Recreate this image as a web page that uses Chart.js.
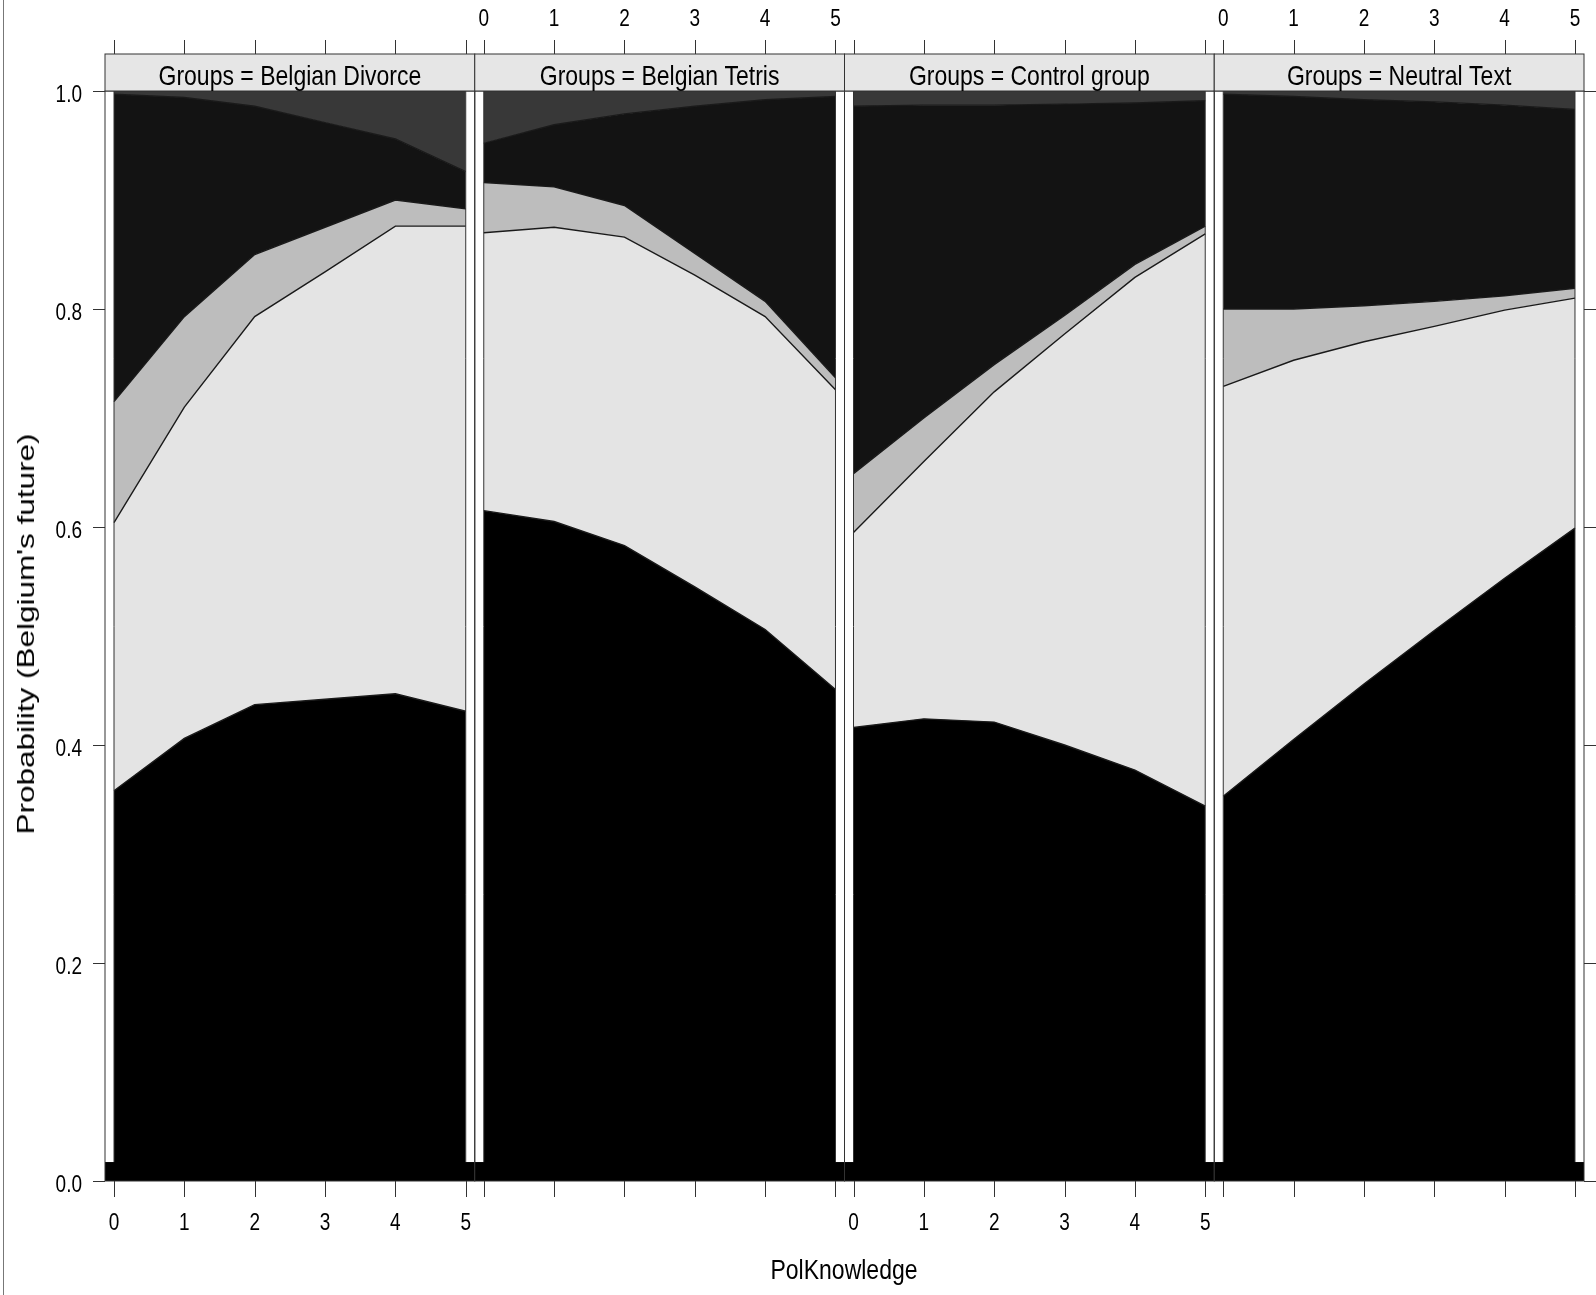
<!DOCTYPE html>
<html>
<head>
<meta charset="utf-8">
<script src="https://cdn.jsdelivr.net/npm/chart.js@4.4.1/dist/chart.umd.min.js"></script>
<style>
  html, body { margin: 0; padding: 0; background: #fff; }
  #wrap { position: relative; width: 1596px; height: 1295px; overflow: hidden; background: #fff; }
  #wrap canvas { position: absolute; left: 0; top: 0; }
  .frame { position: absolute; left: 3px; top: 0; width: 0; height: 1295px; border-left: 1px solid #777; }
  .title { position: absolute; font-family: "Liberation Sans", Arial, Helvetica, sans-serif; color: #000; white-space: nowrap; }
  #xtitle { left: 844px; top: 1270px; font-size: 23px; line-height: 23px; transform: translate(-50%, -50%) scaleY(1.2); }
  #ytitle { left: 26px; top: 634px; font-size: 24px; line-height: 24px; transform: translate(-50%, -50%) rotate(-90deg) scaleX(1.31); }
</style>
</head>
<body>
<div id="wrap">
  <div class="frame"></div>
  <canvas id="p0" width="1596" height="1295"></canvas>
  <canvas id="p1" width="1596" height="1295"></canvas>
  <canvas id="p2" width="1596" height="1295"></canvas>
  <canvas id="p3" width="1596" height="1295"></canvas>
  <div class="title" id="xtitle">PolKnowledge</div>
  <div class="title" id="ytitle">Probability (Belgium's future)</div>
</div>
<script>
// --- data (cumulative probabilities) ---
const knowledge = [0, 1, 2, 3, 4, 5];
const groups = ['Belgian Divorce', 'Belgian Tetris', 'Control group', 'Neutral Text'];
const yTicks = [0, 0.2, 0.4, 0.6, 0.8, 1.0];

const divorceCum1 = [0.358, 0.406, 0.437, 0.442, 0.447, 0.431];
const divorceCum2 = [0.604, 0.710, 0.793, 0.834, 0.876, 0.876];
const divorceCum3 = [0.715, 0.793, 0.850, 0.875, 0.900, 0.892];
const divorceCum4 = [0.997, 0.994, 0.986, 0.971, 0.956, 0.926];

const tetrisCum1 = [0.615, 0.605, 0.583, 0.545, 0.506, 0.451];
const tetrisCum2 = [0.870, 0.875, 0.866, 0.831, 0.793, 0.726];
const tetrisCum3 = [0.916, 0.912, 0.895, 0.851, 0.807, 0.737];
const tetrisCum4 = [0.952, 0.969, 0.979, 0.986, 0.992, 0.995];

const controlCum1 = [0.416, 0.424, 0.421, 0.400, 0.377, 0.344];
const controlCum2 = [0.595, 0.660, 0.724, 0.777, 0.829, 0.869];
const controlCum3 = [0.649, 0.700, 0.749, 0.794, 0.841, 0.876];
const controlCum4 = [0.986, 0.987, 0.987, 0.988, 0.989, 0.991];

const neutralCum1 = [0.353, 0.405, 0.456, 0.505, 0.553, 0.599];
const neutralCum2 = [0.729, 0.753, 0.770, 0.784, 0.799, 0.810];
const neutralCum3 = [0.800, 0.800, 0.803, 0.807, 0.812, 0.819];
const neutralCum4 = [0.997, 0.995, 0.992, 0.990, 0.987, 0.983];

const topCum = [1, 1, 1, 1, 1, 1];

const panelSeries = [
    [divorceCum1, divorceCum2, divorceCum3, divorceCum4, topCum],
    [tetrisCum1, tetrisCum2, tetrisCum3, tetrisCum4, topCum],
    [controlCum1, controlCum2, controlCum3, controlCum4, topCum],
    [neutralCum1, neutralCum2, neutralCum3, neutralCum4, topCum]
];

// --- look ---
const layerColors = ['#000000', '#e4e4e4', '#bdbdbd', '#131313', '#383838'];
const FONT = '"Liberation Sans", Arial, Helvetica, sans-serif';
const W = 1596, H = 1295;
const panelLeft = [105, 474.75, 844.5, 1214.25];
const panelWidth = 369.75;
const bandTop = 0.0174; // black strip along the bottom of every panel

function stretchedText(ctx, text, px, py, sy, align) {
    ctx.save();
    ctx.translate(px, py);
    ctx.scale(1, sy);
    ctx.textAlign = align;
    ctx.textBaseline = 'alphabetic';
    ctx.fillText(text, 0, 0);
    ctx.restore();
}

const latticePlugin = {
    id: 'lattice',
    beforeDatasetsDraw(chart) {
        const { ctx, chartArea: a, scales: { y } } = chart;
        const yb = y.getPixelForValue(bandTop);
        ctx.save();
        ctx.fillStyle = '#000';
        ctx.fillRect(a.left, yb, a.right - a.left, a.bottom - yb);
        ctx.restore();
    },
    afterDraw(chart, args, opts) {
        const { ctx, chartArea: a, scales: { x, y } } = chart;
        const idx = opts.index;
        ctx.save();

        // edges of the data region
        ctx.strokeStyle = '#333';
        ctx.lineWidth = 1;
        ctx.beginPath();
        [knowledge[0], knowledge[knowledge.length - 1]].forEach(k => {
            const px = x.getPixelForValue(k);
            ctx.moveTo(px, y.getPixelForValue(bandTop));
            ctx.lineTo(px, y.getPixelForValue(1));
        });
        ctx.stroke();

        // panel box
        ctx.strokeStyle = '#333';
        ctx.strokeRect(a.left, a.top, a.right - a.left, a.bottom - a.top);

        // strip
        const stripH = 37;
        const stripTop = a.top - stripH;
        ctx.fillStyle = '#e6e6e6';
        ctx.fillRect(a.left, stripTop, a.right - a.left, stripH);
        ctx.strokeRect(a.left, stripTop, a.right - a.left, stripH);
        ctx.fillStyle = '#000';
        ctx.font = '23px ' + FONT;
        stretchedText(ctx, 'Groups = ' + opts.label, (a.left + a.right) / 2, stripTop + 31, 1.22, 'center');

        // x ticks top and bottom
        ctx.strokeStyle = '#333';
        ctx.beginPath();
        knowledge.forEach(k => {
            const px = Math.round(x.getPixelForValue(k)) + 0.5;
            ctx.moveTo(px, stripTop - 14);
            ctx.lineTo(px, stripTop);
            ctx.moveTo(px, a.bottom);
            ctx.lineTo(px, a.bottom + 16);
        });
        ctx.stroke();

        // x tick labels, alternating bottom / top
        ctx.font = '19px ' + FONT;
        ctx.fillStyle = '#000';
        knowledge.forEach(k => {
            const px = x.getPixelForValue(k);
            if (idx % 2 === 0) {
                stretchedText(ctx, String(k), px, a.bottom + 49, 1.25, 'center');
            } else {
                stretchedText(ctx, String(k), px, stripTop - 28, 1.25, 'center');
            }
        });

        // y axis: labels on the left panel, bare ticks on the right panel
        if (idx === 0 || idx === groups.length - 1) {
            ctx.beginPath();
            yTicks.forEach(v => {
                const py = Math.round(y.getPixelForValue(v)) + 0.5;
                if (idx === 0) {
                    ctx.moveTo(a.left - 12, py);
                    ctx.lineTo(a.left, py);
                } else {
                    ctx.moveTo(a.right, py);
                    ctx.lineTo(a.right + 12, py);
                }
            });
            ctx.stroke();
            if (idx === 0) {
                yTicks.forEach(v => {
                    const py = y.getPixelForValue(v);
                    stretchedText(ctx, v.toFixed(1), a.left - 23, py + 10.5, 1.25, 'right');
                });
            }
        }
        ctx.restore();
    }
};

Chart.register(latticePlugin);

groups.forEach((g, i) => {
    const series = panelSeries[i];
    const datasets = series.map((vals, j) => ({
        label: 'layer ' + (j + 1),
        data: knowledge.map((k, n) => ({ x: k, y: vals[n] })),
        backgroundColor: layerColors[j],
        borderColor: '#1a1a1a',
        borderWidth: j === series.length - 1 ? 0 : 1.4,
        fill: j === 0 ? 'origin' : '-1',
        pointRadius: 0,
        tension: 0
    }));
    const left = panelLeft[i];
    const right = left + panelWidth;
    new Chart(document.getElementById('p' + i).getContext('2d'), {
        type: 'line',
        data: { datasets },
        options: {
            responsive: false,
            animation: false,
            devicePixelRatio: 1,
            layout: { padding: { left: left, right: W - right, top: 91, bottom: H - 1181 } },
            scales: {
                x: { type: 'linear', display: false, min: -0.128, max: 5.128 },
                y: { type: 'linear', display: false, min: 0, max: 1 }
            },
            plugins: {
                legend: { display: false },
                tooltip: { enabled: false },
                filler: { drawTime: 'beforeDatasetsDraw' },
                lattice: { index: i, label: g }
            }
        }
    });
});
</script>
</body>
</html>
